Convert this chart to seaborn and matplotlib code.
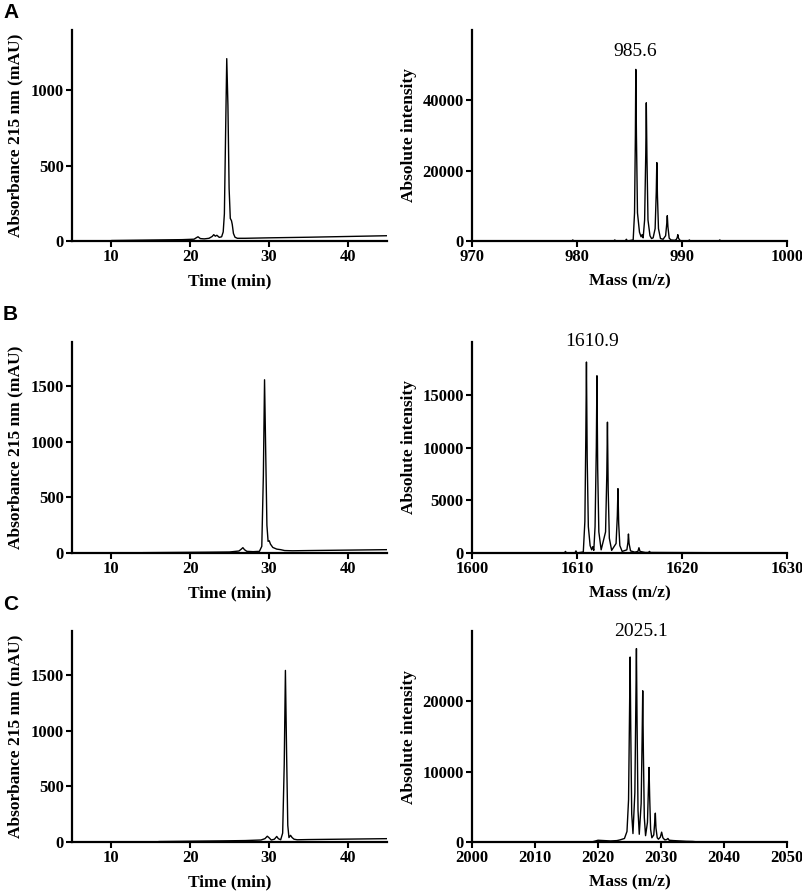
import numpy as np
import pandas as pd
import matplotlib
matplotlib.use("Agg")
import matplotlib.pyplot as plt
import seaborn as sns

# HPLC traces (time in min, absorbance in mAU)
time_a = [10, 13, 16, 19, 20.5, 20.8, 21.0, 21.3, 21.8, 22.4, 22.8, 23.0, 23.2, 23.4, 23.7, 24.0,
          24.2, 24.35, 24.5, 24.65, 24.8, 24.95, 25.1, 25.25, 25.35, 25.5, 25.7, 26.0, 27, 30, 35, 40, 45]
abs_a = [3, 5, 7, 9, 12, 22, 28, 16, 14, 18, 30, 42, 32, 38, 24, 28,
         60, 180, 700, 1210, 900, 350, 150, 135, 110, 50, 25, 18, 18, 21, 25, 30, 35]

time_b = [14, 18, 22, 25, 26.2, 26.5, 26.7, 26.9, 27.2, 28, 28.8, 29.1, 29.3, 29.45, 29.6, 29.75,
          29.9, 30.05, 30.2, 30.5, 31, 31.5, 32, 33, 35, 40, 45]
abs_b = [3, 5, 7, 9, 18, 35, 48, 30, 15, 12, 15, 60, 700, 1560, 900, 250,
         105, 110, 80, 50, 35, 30, 22, 20, 22, 26, 30]

time_c = [16, 20, 24, 27, 29.0, 29.5, 29.8, 30.0, 30.3, 30.7, 31.0, 31.2, 31.5, 31.75, 31.95, 32.1,
          32.25, 32.4, 32.55, 32.75, 32.95, 33.2, 33.6, 35, 40, 45]
abs_c = [4, 7, 10, 13, 18, 30, 52, 40, 18, 25, 50, 30, 20, 80, 700, 1545,
         800, 150, 40, 60, 40, 25, 20, 22, 26, 30]

# mass spectra (m/z, absolute intensity)
mz_a = [970, 979.5, 979.6, 979.7, 983.5, 983.6, 983.7, 984.6, 984.7, 984.8,
        985.35, 985.48, 985.56, 985.6, 985.66, 985.76, 985.95, 986.1, 986.2, 986.3,
        986.44, 986.55, 986.6, 986.66, 986.76, 986.95, 987.1, 987.25,
        987.44, 987.55, 987.6, 987.66, 987.76, 987.95, 988.2,
        988.44, 988.55, 988.6, 988.66, 988.78, 988.95, 989.3,
        989.45, 989.55, 989.6, 989.67, 989.8, 990.0,
        990.6, 990.7, 990.8, 993.5, 993.6, 993.7, 1000]
int_a = [0, 0, 300, 0, 0, 300, 0, 0, 500, 0,
         300, 8000, 30000, 48800, 30000, 8000, 2500, 1200, 1800, 900,
         6000, 25000, 39300, 24000, 6000, 1500, 700, 900,
         3500, 14000, 22300, 13000, 3500, 700, 500,
         1500, 5000, 7200, 4000, 800, 300, 200,
         400, 1000, 1800, 800, 200, 0,
         0, 300, 0, 0, 300, 0, 0]

mz_b = [1600, 1608.8, 1608.9, 1609.0, 1609.8, 1609.9, 1610.0,
        1610.6, 1610.75, 1610.84, 1610.9, 1610.97, 1611.08, 1611.25, 1611.4, 1611.5, 1611.6,
        1611.72, 1611.84, 1611.9, 1611.97, 1612.08, 1612.3,
        1612.72, 1612.84, 1612.9, 1612.97, 1613.08, 1613.3,
        1613.72, 1613.84, 1613.9, 1613.97, 1614.08, 1614.3,
        1614.75, 1614.85, 1614.9, 1614.96, 1615.1, 1615.5,
        1615.8, 1615.9, 1616.0, 1616.5, 1616.8, 1616.9, 1617.0, 1630]
int_b = [0, 0, 150, 0, 0, 200, 0,
         100, 3000, 11000, 18100, 9000, 2500, 700, 300, 600, 250,
         2500, 10000, 16800, 8000, 2000, 300,
         2000, 7500, 12400, 6000, 1400, 250,
         900, 3500, 6100, 2800, 700, 150,
         300, 1000, 1800, 900, 200, 80,
         150, 500, 150, 50, 50, 150, 50, 0]

mz_c = [2000, 2019, 2020, 2021, 2022, 2023, 2023.5, 2024.2, 2024.6,
        2024.85, 2025.0, 2025.1, 2025.2, 2025.35, 2025.55,
        2025.85, 2026.0, 2026.1, 2026.2, 2026.35, 2026.55,
        2026.85, 2027.0, 2027.1, 2027.2, 2027.35, 2027.55,
        2027.85, 2028.0, 2028.1, 2028.2, 2028.35, 2028.55,
        2028.85, 2029.0, 2029.1, 2029.2, 2029.4, 2029.6,
        2029.9, 2030.1, 2030.3, 2030.6, 2030.9, 2031.1, 2031.3,
        2032, 2033, 2034, 2035, 2036, 2050]
int_c = [0, 0, 250, 200, 150, 200, 300, 500, 1500,
         6000, 18000, 26300, 16000, 4000, 1200,
         7000, 19000, 27500, 17000, 4500, 1100,
         5500, 14500, 21500, 13000, 3500, 900,
         2800, 7500, 10600, 6500, 1800, 600,
         1000, 2800, 4100, 2000, 600, 400,
         700, 1400, 600, 300, 350, 500, 250,
         200, 150, 100, 80, 0, 0]

panel_letters = ["A", "B", "C"]
peak_labels = ["985.6", "1610.9", "2025.1"]
peak_label_pos = [(985.5, 54000), (1611.4, 20000), (2026.8, 30000)]

hplc_ylims = [1400, 1900, 1900]
hplc_yticks = [[0, 500, 1000], [0, 500, 1000, 1500], [0, 500, 1000, 1500]]
ms_xlims = [(970, 1000), (1600, 1630), (2000, 2050)]
ms_xticks = [[970, 980, 990, 1000], [1600, 1610, 1620, 1630], [2000, 2010, 2020, 2030, 2040, 2050]]
ms_ylims = [60000, 20000, 30000]
ms_yticks = [[0, 20000, 40000], [0, 5000, 10000, 15000], [0, 10000, 20000]]

sns.set_theme(style="ticks")
plt.rcParams["font.family"] = ["Liberation Serif", "DejaVu Serif"]
plt.rcParams["font.weight"] = "bold"
plt.rcParams["axes.labelweight"] = "bold"
for key in ["text.color", "axes.labelcolor", "xtick.color", "ytick.color"]:
    plt.rcParams[key] = "black"

W, H = 803, 893
fig = plt.figure(figsize=(W / 100, H / 100), dpi=100)

hplc = [(time_a, abs_a), (time_b, abs_b), (time_c, abs_c)]
spectra = [(mz_a, int_a), (mz_b, int_b), (mz_c, int_c)]
bottoms_px = [241, 553, 842]
ax_h = 211
letter_y = [12, 314, 604]


def style_axes(ax):
    sns.despine(ax=ax)
    for s in ["left", "bottom"]:
        ax.spines[s].set_linewidth(1.6)
        ax.spines[s].set_color("black")
    ax.tick_params(axis="both", direction="out", length=4, width=1.5,
                   colors="black", labelsize=12, pad=2)


for i in range(3):
    b = 1 - bottoms_px[i] / H
    h = ax_h / H

    # HPLC trace
    ax1 = fig.add_axes([72 / W, b, 315 / W, h])
    df1 = pd.DataFrame({"t": hplc[i][0], "a": hplc[i][1]})
    sns.lineplot(data=df1, x="t", y="a", ax=ax1, sort=False, estimator=None,
                 color="black", linewidth=1.0)
    ax1.set_xlim(5, 45)
    ax1.set_ylim(0, hplc_ylims[i])
    ax1.set_xticks([10, 20, 30, 40])
    ax1.set_yticks(hplc_yticks[i])
    ax1.set_xlabel("Time (min)", fontsize=12.5)
    ax1.set_ylabel("Absorbance 215 nm (mAU)", fontsize=12.5)
    ax1.yaxis.set_label_coords(-49 / 315, 0.5)
    ax1.xaxis.set_label_coords(0.5, -32 / ax_h)
    style_axes(ax1)

    # mass spectrum
    ax2 = fig.add_axes([472 / W, b, 315 / W, h])
    df2 = pd.DataFrame({"mz": spectra[i][0], "inten": spectra[i][1]})
    sns.lineplot(data=df2, x="mz", y="inten", ax=ax2, sort=False, estimator=None,
                 color="black", linewidth=1.0)
    ax2.set_xlim(*ms_xlims[i])
    ax2.set_ylim(0, ms_ylims[i])
    ax2.set_xticks(ms_xticks[i])
    ax2.set_yticks(ms_yticks[i])
    ax2.set_xlabel("Mass (m/z)", fontsize=12.5)
    ax2.set_ylabel("Absolute intensity", fontsize=12.5)
    ax2.yaxis.set_label_coords(-55 / 315, 0.5)
    ax2.xaxis.set_label_coords(0.5, -32 / ax_h)
    style_axes(ax2)
    ax2.text(peak_label_pos[i][0], peak_label_pos[i][1], peak_labels[i],
             ha="center", va="center", fontsize=14, fontweight="normal", clip_on=False)

    fig.text(3 / W, 1 - letter_y[i] / H, panel_letters[i], ha="left", va="center",
             fontsize=15, fontweight="bold", family=["Liberation Sans", "DejaVu Sans"])

fig.savefig("out.png", dpi=100)
